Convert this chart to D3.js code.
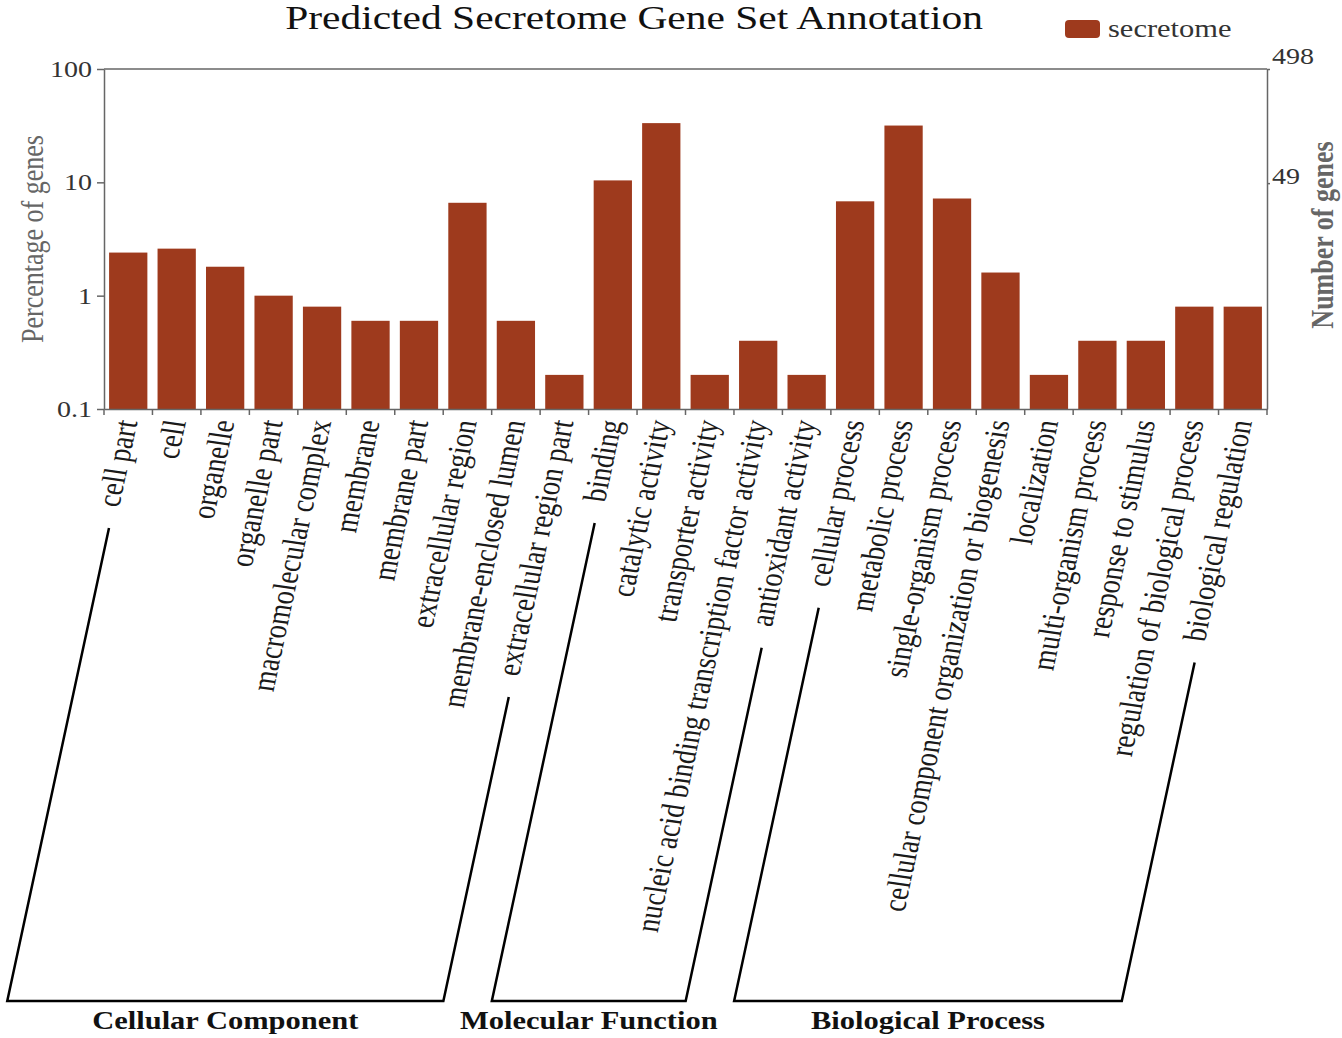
<!DOCTYPE html>
<html>
<head>
<meta charset="utf-8">
<script src="https://cdn.jsdelivr.net/npm/d3@7"></script>
<style>
  body { margin: 0; background: #fff; }
  svg { display: block; }
  text { font-family: "Liberation Serif", "Times New Roman", serif; }
</style>
</head>
<body>
<div id="chart"></div>
<script>
// GO categories (x axis), in drawing order
const categories = [
    "cell part", "cell", "organelle", "organelle part", "macromolecular complex",
    "membrane", "membrane part", "extracellular region", "membrane-enclosed lumen",
    "extracellular region part", "binding", "catalytic activity", "transporter activity",
    "nucleic acid binding transcription factor activity", "antioxidant activity",
    "cellular process", "metabolic process", "single-organism process",
    "cellular component organization or biogenesis", "localization",
    "multi-organism process", "response to stimulus", "regulation of biological process",
    "biological regulation"
];

// % of genes per category
const percentages = [
    2.4, 2.6, 1.8, 1.0, 0.8,
    0.6, 0.6, 6.6, 0.6,
    0.2, 10.4, 33.3, 0.2,
    0.4, 0.2,
    6.8, 31.7, 7.2,
    1.6, 0.2,
    0.4, 0.4, 0.8,
    0.8
];

// the three GO groups and how many categories each one spans
const groupNames = ["Cellular Component", "Molecular Function", "Biological Process"];
const groupSizes = [10, 5, 9];

const leftTicks = [0.1, 1, 10, 100];
const rightTicks = [49, 498];
const totalGenes = 498;
const seriesName = "secretome";

// the original picture is stretched sideways, so the text gets the same stretch
const S = 1.22;
const barColor = "#9e3a1d";
const axisColor = "#666";

const plot = { left: 104, right: 1267, top: 69, bottom: 409 };

const svg = d3.select("#chart")
    .append("svg")
    .attr("width", 1342)
    .attr("height", 1038);

const x = d3.scaleBand()
    .domain(categories)
    .range([plot.left, plot.right])
    .paddingInner(0.21)
    .paddingOuter(0.105);     // outer = inner/2 -> each bar sits centered in its own slot

const y = d3.scaleLog().domain([0.1, 100]).range([plot.bottom, plot.top]);
// right axis: same positions, but counted in genes
const yCount = d3.scaleLog().domain([totalGenes / 1000, totalGenes]).range([plot.bottom, plot.top]);

// Title + legend
svg.append("text")
    .attr("transform", `translate(634, 29) scale(${S},1)`)
    .attr("text-anchor", "middle")
    .attr("font-size", 34)
    .attr("fill", "#111")
    .text("Predicted Secretome Gene Set Annotation");

svg.append("rect")
    .attr("x", 1065).attr("y", 20)
    .attr("width", 35).attr("height", 18)
    .attr("rx", 4)
    .attr("fill", barColor);

svg.append("text")
    .attr("transform", `translate(1108, 37) scale(${S},1)`)
    .attr("font-size", 25)
    .attr("fill", "#333")
    .text(seriesName);

// Bars
svg.append("g")
    .selectAll("rect")
    .data(categories)
    .join("rect")
    .attr("x", c => x(c))
    .attr("width", x.bandwidth())
    .attr("y", (c, i) => y(percentages[i]))
    .attr("height", (c, i) => plot.bottom - y(percentages[i]))
    .attr("fill", barColor);

// top edge of the frame
svg.append("line")
    .attr("x1", plot.left).attr("x2", plot.right)
    .attr("y1", plot.top).attr("y2", plot.top)
    .attr("stroke", axisColor).attr("stroke-width", 1.5);

function styleAxis(g) {
    g.select(".domain").attr("stroke", axisColor).attr("stroke-width", 1.5);
    g.selectAll(".tick line").attr("stroke", axisColor).attr("stroke-width", 1.5);
    g.selectAll(".tick text").attr("fill", "#333").attr("font-family", null);
}

// Left axis (percentage)
const leftAxis = svg.append("g")
    .attr("transform", `translate(${plot.left},0)`)
    .call(d3.axisLeft(y).tickValues(leftTicks).tickFormat(d3.format("~g")).tickSize(7).tickSizeOuter(0))
    .call(styleAxis);
leftAxis.selectAll(".tick text")
    .attr("font-size", 23)
    .attr("x", -12 / S)
    .attr("transform", `scale(${S},1)`);

// Right axis (number of genes)
const rightAxis = svg.append("g")
    .attr("transform", `translate(${plot.right},0)`)
    .call(d3.axisRight(yCount).tickValues(rightTicks).tickFormat(d3.format("d")).tickSize(3).tickSizeOuter(0))
    .call(styleAxis);
rightAxis.selectAll(".tick text")
    .attr("font-size", 23)
    .attr("x", 5 / S)
    .attr("dy", d => d === totalGenes ? "-0.25em" : "0")
    .attr("transform", `scale(${S},1)`);

// Bottom axis: plain line, ticks go between the bars
svg.append("g")
    .attr("transform", `translate(0,${plot.bottom})`)
    .call(d3.axisBottom(x).tickSize(0).tickFormat("").tickSizeOuter(0))
    .call(styleAxis);

const halfGap = x.step() * x.paddingInner() / 2;
const boundaries = categories.map(c => x(c) - halfGap).concat([plot.right]);
svg.append("g")
    .selectAll("line")
    .data(boundaries)
    .join("line")
    .attr("x1", d => d).attr("x2", d => d)
    .attr("y1", plot.bottom).attr("y2", plot.bottom + 6)
    .attr("stroke", axisColor).attr("stroke-width", 1.5);

// Axis titles
svg.append("text")
    .attr("transform", `translate(32, 239) scale(${S},1) rotate(-90)`)
    .attr("text-anchor", "middle")
    .attr("dy", "0.35em")
    .attr("font-size", 26)
    .attr("fill", "#666")
    .text("Percentage of genes");

svg.append("text")
    .attr("transform", `translate(1322, 235) scale(${S},1) rotate(-90)`)
    .attr("text-anchor", "middle")
    .attr("dy", "0.35em")
    .attr("font-size", 26)
    .attr("font-weight", "bold")
    .attr("fill", "#666")
    .text("Number of genes");

// Slanted category labels
const angle = 80;
const rad = angle * Math.PI / 180;
const labelTop = 420;
const anchorX = c => x(c) + x.bandwidth() / 2 - 2;

const labels = svg.append("g")
    .selectAll("text")
    .data(categories)
    .join("text")
    .attr("transform", c => `translate(${anchorX(c)},${labelTop}) scale(${S},1) rotate(${-angle})`)
    .attr("text-anchor", "end")
    .attr("dy", "0.35em")
    .attr("font-size", 27)
    .attr("fill", "#1a1a1a")
    .text(c => c);

// Group brackets: lines continue the first/last label of each group down to a common base
const bracketY = 1001;
const gap = 22;
const legShift = 6;
const labelNodes = labels.nodes();

function legFor(i) {
    const c = categories[i];
    const ax = anchorX(c) + legShift;
    const len = labelNodes[i].getComputedTextLength() + gap;
    const dx = -S * Math.cos(rad), dy = Math.sin(rad);
    const top = [ax + dx * len, labelTop + dy * len];
    const t = (bracketY - labelTop) / dy;
    const bottom = [ax + dx * t, bracketY];
    return { top, bottom };
}

let start = 0;
groupNames.forEach((name, gi) => {
    const first = legFor(start);
    const last = legFor(start + groupSizes[gi] - 1);
    start += groupSizes[gi];

    svg.append("path")
        .attr("d", d3.line()([first.top, first.bottom, last.bottom, last.top]))
        .attr("fill", "none")
        .attr("stroke", "#000")
        .attr("stroke-width", 2.5);

    const cx = (first.bottom[0] + last.bottom[0]) / 2;
    svg.append("text")
        .attr("transform", `translate(${cx},1029) scale(${S},1)`)
        .attr("text-anchor", "middle")
        .attr("font-size", 25)
        .attr("font-weight", "bold")
        .attr("fill", "#111")
        .text(name);
});
</script>
</body>
</html>
